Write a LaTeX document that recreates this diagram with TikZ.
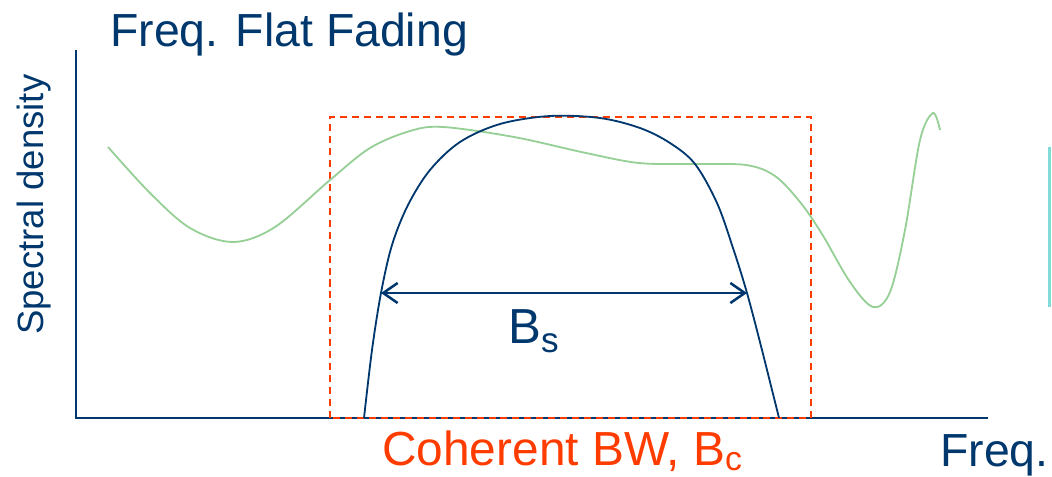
\documentclass[tikz,border=0pt]{standalone}
\usepackage{fontspec}
\setmainfont{Liberation Sans}
\usepackage{tikz}
\usetikzlibrary{arrows.meta}
\definecolor{navy}{RGB}{0,56,110}
\definecolor{cohred}{RGB}{255,60,0}
\definecolor{chgreen}{RGB}{150,208,150}
\definecolor{tealmk}{RGB}{128,220,215}

\begin{document}
\begin{tikzpicture}[x=0.025cm, y=-0.025cm,
  axis/.style={navy, line width=1.4pt},
  cohbox/.style={cohred, line width=1pt, dash pattern=on 5pt off 3.5pt},
  chanresp/.style={chgreen, line width=1.3pt},
  sigspec/.style={navy, line width=1.3pt},
  bsarrow/.style={navy, line width=1.8pt, {Straight Barb[length=0.36cm, width=0.5cm]}-{Straight Barb[length=0.36cm, width=0.5cm]}},
  lab/.style={inner sep=0pt, anchor=base west}]
  \useasboundingbox (0,0) rectangle (1052,476);
  \coordinate (O) at (76,418);
  \coordinate (ytop) at (76,50);
  \coordinate (xend) at (988,418);
  \draw[axis] (ytop) -- (O) -- (xend);
  \draw[cohbox] (330,418) rectangle (811,117);
  \draw[chanresp] plot[smooth, tension=0.55] coordinates {(108,147) (150,193) (190,228) (233,242) (275,227) (330,180) (370,148) (410,131) (443,127) (514,137) (586,153) (639,163) (693,164) (746,165) (775,176) (800,202) (822,234) (850,282) (873,307) (890,292) (905,230) (920,140) (933,113) (940,130)};
  \draw[sigspec] plot[smooth, tension=0.55] coordinates {(364,418) (372,350) (381,293) (392,245) (408,205) (430,170) (460,142) (500,124) (550,116) (600,118) (640,128) (670,143) (695,164) (717,203) (733,248) (747,293) (762,350) (779,418)};
  \draw[tealmk, line width=2.8pt] (1049.5,147) -- (1049.5,307);
  \coordinate (bsL) at (381,293);
  \coordinate (bsR) at (747,293);
  \draw[bsarrow] (bsL) -- (bsR);
  \node[lab, navy, font=\fontsize{33pt}{38pt}\selectfont] (title) at (110,46) {Freq. Flat Fading};
  \node[lab, navy, rotate=90, font=\fontsize{26pt}{30pt}\selectfont] (ylab) at (43,335) {Spectral density};
  \node[lab, navy, font=\fontsize{35pt}{40pt}\selectfont] (bslab) at (508,343) {B\raisebox{-7pt}{\fontsize{25pt}{25pt}\selectfont s}};
  \node[lab, cohred, font=\fontsize{34pt}{40pt}\selectfont] (bclab) at (382,465) {Coherent BW, B\raisebox{-4pt}{\fontsize{24pt}{24pt}\selectfont c}};
  \node[lab, navy, font=\fontsize{33pt}{38pt}\selectfont] (xlab) at (940,466) {Freq.};
\end{tikzpicture}
\end{document}
